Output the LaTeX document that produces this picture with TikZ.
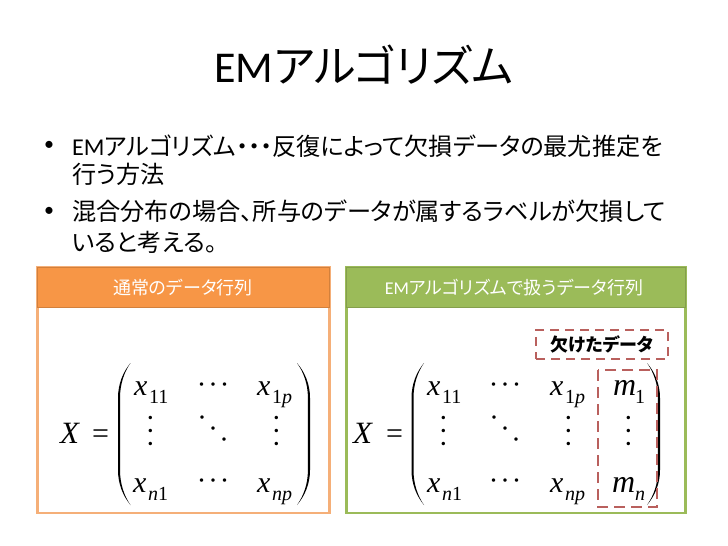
\documentclass[tikz,border=0pt]{standalone}
\usepackage{fontspec}
\setmainfont{Carlito}
\newfontfamily\cjk[RawFeature=+palt]{Noto Sans CJK JP}
\newfontfamily\tms{Liberation Serif}
\definecolor{orhead}{HTML}{F79646}
\definecolor{orline}{HTML}{F5AF78}
\definecolor{grhead}{HTML}{9BBB59}
\definecolor{dashc}{HTML}{B9605D}
\newcommand{\jt}[1]{{\cjk #1}}
\newcommand{\vx}[3]{\node[ent,anchor=base west] at (#1,#2) {\fontsize{30}{30}\tms\itshape x};\node[ent,anchor=base west] at (#1+15,#2+8) {\fontsize{20}{20}\tms #3};}
\newcommand{\dotg}[2]{\node[ent] at (#1,#2) {\fontsize{21}{21}\tms\bfseries ·};}
\newcommand{\hdots}[2]{\dotg{#1-11.5}{#2}\dotg{#1}{#2}\dotg{#1+11.5}{#2}}
\newcommand{\vdotsg}[2]{\node[ent,rotate=90] at (#1+3,#2) {\fontsize{21}{21}\tms\bfseries ·\kern5.7pt·\kern5.7pt·};}
\newcommand{\ddotsg}[2]{\dotg{#1-11}{#2-11}\dotg{#1}{#2}\dotg{#1+11}{#2+11}}
\newcommand{\parenm}[2]{\fill (#1,363) .. controls (#1+#2*0.6,372) and (#1+#2,384) .. (#1+#2,398) -- (#1+#2,470) .. controls (#1+#2,484) and (#1+#2*0.6,496) .. (#1,505) .. controls (#1+#2*0.5,496) and (#1+#2*0.84,484) .. (#1+#2*0.84,470) -- (#1+#2*0.84,398) .. controls (#1+#2*0.84,384) and (#1+#2*0.5,372) .. (#1,363) -- cycle;}
\begin{document}
\begin{tikzpicture}[x=1pt,y=-1pt,
  ent/.style={inner sep=0pt,outer sep=0pt,text=black},
  bodyline/.style={inner sep=0pt,anchor=base west,text=black},
  dash box/.style={draw=dashc,line width=2.2pt,dash pattern=on 9pt off 6pt},
  panelhead/.style={text=white,inner sep=0pt}]
\useasboundingbox (0,0) rectangle (728,546);
\fill[white] (0,0) rectangle (728,546);
% title
\node[ent,anchor=base] (title) at (364,82) {\fontsize{44}{44}\selectfont EM\jt{アルゴリズム}};
% bullets
\node[ent] (b1) at (49,146) {\fontsize{20}{20}\selectfont •};
\node[bodyline] (l1) at (72,155) {\fontsize{24.15}{24.15}\selectfont EM\jt{アルゴリズム・・・反復によって欠損データの最尤推定を}};
\node[bodyline] (l2) at (72,183) {\fontsize{24.15}{24.15}\selectfont\jt{行う方法}};
\node[ent] (b2) at (49,212) {\fontsize{20}{20}\selectfont •};
\node[bodyline] (l3) at (72,220) {\fontsize{24.2}{24.2}\selectfont\jt{混合分布の場合、所与のデータが属するラベルが欠損して}};
\node[bodyline] (l4) at (72,251) {\fontsize{24.15}{24.15}\selectfont\jt{いると考える。}};
% left panel
\draw[orline,line width=2.2pt,fill=white] (37.5,267) rectangle (329.5,513);
\fill[orhead,draw=orhead!85!black,line width=1pt] (37.5,267) rectangle (329.5,307);
\node[panelhead] (h1) at (183,288) {\fontsize{18}{18}\selectfont\jt{通常のデータ行列}};
% right panel
\draw[grhead,line width=2.2pt,fill=white] (346.5,267) rectangle (685.5,513);
\fill[grhead,draw=grhead!85!black,line width=1pt] (346.5,267) rectangle (685.5,307);
\node[panelhead] (h2) at (514,288) {\fontsize{18}{18}\selectfont EM\jt{アルゴリズムで扱うデータ行列}};
% left matrix
\node[ent,anchor=base west] (X1) at (60,443) {\fontsize{31}{31}\tms\itshape X};
\node[ent,anchor=base west] (e1) at (92,443) {\fontsize{30}{30}\tms =};
\parenm{130.5}{-12.5}
\parenm{297}{13}
\vx{134}{395}{11}
\vx{257}{395}{1\textit{p}}
\vx{133}{492}{\textit{n}1}
\vx{257}{492}{\textit{np}}
\hdots{213}{387}
\hdots{213}{483}
\vdotsg{150}{431}
\ddotsg{213}{431}
\vdotsg{276}{431}
% right matrix
\node[ent,anchor=base west] (X2) at (353,443) {\fontsize{31}{31}\tms\itshape X};
\node[ent,anchor=base west] (e2) at (386,443) {\fontsize{30}{30}\tms =};
\parenm{424}{-12.5}
\parenm{647}{13}
\vx{427}{395}{11}
\vx{550}{395}{1\textit{p}}
\vx{427}{492}{\textit{n}1}
\vx{550}{492}{\textit{np}}
\node[ent,anchor=base west] at (613,395) {\fontsize{32}{32}\tms\itshape m};
\node[ent,anchor=base west] at (635,403) {\fontsize{20}{20}\tms 1};
\node[ent,anchor=base west] at (612,492) {\fontsize{32}{32}\tms\itshape m};
\node[ent,anchor=base west] at (635,500) {\fontsize{20}{20}\tms\itshape n};
\hdots{505}{387}
\hdots{505}{483}
\vdotsg{443}{431}
\ddotsg{505}{431}
\vdotsg{568}{431}
\vdotsg{628}{431}
% dashed
\node[dash box,minimum width=132pt,minimum height=29pt,inner sep=0pt] (lab) at (602,344.5) {\fontsize{18}{18}\cjk\bfseries 欠けたデータ};
\draw[dash box,line width=2.8pt,dash pattern=on 11pt off 6pt] (598,370) rectangle (657,507);
\end{tikzpicture}
\end{document}
